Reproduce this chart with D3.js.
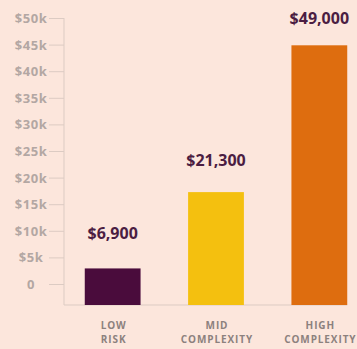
<!DOCTYPE html>
<html>
<head>
<meta charset="utf-8">
<script src="https://cdn.jsdelivr.net/npm/d3@7"></script>
<style>
  html, body { margin: 0; padding: 0; background: #fce6dc; }
  svg { display: block; font-family: "Open Sans", sans-serif; }
  .tick-label { fill: #b3a7a3; font-size: 13px; font-weight: 700; letter-spacing: 0.6px; }
  .value-label { fill: #4b1d42; font-size: 16px; font-weight: 700; }
  .cat-label { fill: #8c817e; font-size: 10px; font-weight: 700; letter-spacing: 0.9px; }
  .axis-line { stroke: #dccbc3; stroke-width: 1; }
</style>
</head>
<body>
<svg id="chart"></svg>
<script>
// chart data
var categories = ["LOW RISK", "MID COMPLEXITY", "HIGH COMPLEXITY"]
var categoryLines = [["LOW", "RISK"], ["MID", "COMPLEXITY"], ["HIGH", "COMPLEXITY"]]
var costs = [6900, 21300, 49000]
var barColors = ["#4a0c3c", "#f4c00f", "#de6d0f"]
var tickValues = [0, 5000, 10000, 15000, 20000, 25000, 30000, 35000, 40000, 45000, 50000]
var tickLabels = ["0", "$5k", "$10k", "$15k", "$20k", "$25k", "$30k", "$35k", "$40k", "$45k", "$50k"]

var width = 357, height = 349
var axisX = 64
var baseY = 305

var svg = d3.select("#chart").attr("width", width).attr("height", height)

// the printed axis and the bars don't share one scale in the original
var yAxisScale = d3.scaleLinear().domain([0, 50000]).range([284, 18])
var yBar = d3.scaleLinear().domain([0, 50000]).range([baseY, 40])
var yLabel = d3.scaleLinear().domain([0, 50000]).range([274.6, 18.8])

var x = d3.scaleBand()
  .domain(categories)
  .range([61, 371])
  .paddingInner(0.46)
  .paddingOuter(0.23)

// y axis
var axisG = svg.append("g")
  .attr("transform", "translate(" + axisX + ",0)")
  .call(d3.axisLeft(yAxisScale)
    .tickValues(tickValues)
    .tickFormat(function (d, i) { return tickLabels[i] })
    .tickSize(15)
    .tickPadding(0))
axisG.select(".domain").remove()
axisG.selectAll(".tick line").attr("class", "axis-line").attr("stroke", null)
axisG.selectAll(".tick text")
  .attr("class", "tick-label")
  .attr("fill", null)
  .attr("text-anchor", "middle")
  .attr("x", -33)
  .attr("dy", "0.34em")
axisG.attr("font-family", null).attr("font-size", null)

// vertical axis line and baseline
svg.append("line").attr("class", "axis-line")
  .attr("x1", axisX).attr("x2", axisX)
  .attr("y1", yAxisScale(50000)).attr("y2", baseY)
svg.append("line").attr("class", "axis-line")
  .attr("x1", axisX).attr("x2", x(categories[2]) + x.bandwidth())
  .attr("y1", baseY).attr("y2", baseY)

// bars
svg.selectAll(".bar")
  .data(costs)
  .enter().append("rect")
  .attr("class", "bar")
  .attr("x", function (d, i) { return x(categories[i]) })
  .attr("y", function (d) { return yBar(d) })
  .attr("width", x.bandwidth())
  .attr("height", function (d) { return baseY - yBar(d) })
  .attr("fill", function (d, i) { return barColors[i] })

// value labels
svg.selectAll(".value-label")
  .data(costs)
  .enter().append("text")
  .attr("class", "value-label")
  .attr("text-anchor", "middle")
  .attr("x", function (d, i) { return x(categories[i]) + x.bandwidth() / 2 })
  .attr("y", function (d) { return yLabel(d) })
  .text(function (d) { return "$" + d3.format(",")(d) })

// category labels
var cat = svg.selectAll(".cat-label")
  .data(categoryLines)
  .enter().append("text")
  .attr("class", "cat-label")
  .attr("text-anchor", "middle")
  .attr("transform", function (d, i) {
    return "translate(" + (x(categories[i]) + x.bandwidth() / 2 + 1) + ",329)"
  })
cat.selectAll("tspan")
  .data(function (d) { return d })
  .enter().append("tspan")
  .attr("x", 0)
  .attr("dy", function (d, i) { return i === 0 ? 0 : 14 })
  .text(function (d) { return d })
</script>
</body>
</html>
